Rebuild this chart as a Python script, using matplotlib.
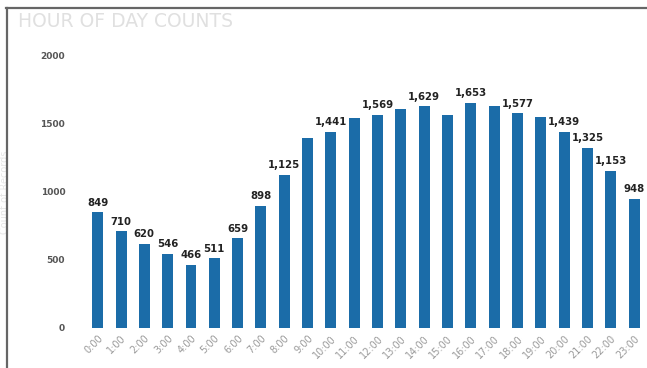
import matplotlib.pyplot as plt
from matplotlib.lines import Line2D

# Hourly counts ---------------------------------------------------------------

hours = ['%d:00' % h for h in range(24)]
counts = [849, 710, 620, 546, 466, 511, 659, 898, 1125, 1395, 1441, 1545,
          1569, 1612, 1629, 1565, 1653, 1632, 1577, 1550, 1439, 1325, 1153, 948]
# bars whose value is printed on top
labelled = [0, 1, 2, 3, 4, 5, 6, 7, 8, 10, 12, 14, 16, 18, 20, 21, 22, 23]
y_ticks = [0, 500, 1000, 1500, 2000]

# Figure ----------------------------------------------------------------------

fig = plt.figure(figsize=(6.47, 3.68), dpi=100)
ax = fig.add_axes([0.133, 0.109, 0.865, 0.739])

x = range(len(counts))
bars = ax.bar(x, counts, width=0.47, color='#1b6ca8')

for i in labelled:
    ax.text(i, counts[i] + 35, '{:,}'.format(counts[i]), ha='center',
            va='bottom', fontsize=7.3, fontweight='bold', color='#222222')

ax.set_xlim(-0.5, 23.5)
ax.set_ylim(0, 2000)
ax.set_xticks(list(x))
ax.set_xticklabels(hours, rotation=45, ha='right', rotation_mode='anchor',
                   fontsize=7, color='#9a9a9a')
ax.set_yticks(y_ticks)
ax.set_yticklabels([str(v) for v in y_ticks], fontsize=6.5,
                   fontweight='bold', color='#555555')
ax.tick_params(axis='y', length=0, pad=15)
ax.tick_params(axis='x', length=0, pad=4)
for s in ax.spines.values():
    s.set_visible(False)

ax.set_ylabel('Count of Records', fontsize=7, color='#e6e6e6', labelpad=22)

fig.text(0.028, 0.915, 'HOUR OF DAY COUNTS', fontsize=13.5, color='#e0e0e0',
         ha='left', va='bottom')

# panel border
fig.add_artist(Line2D([0.0101, 0.0101], [0.0, 0.978], transform=fig.transFigure,
                      color='#666666', lw=1.6))
fig.add_artist(Line2D([0.0093, 1.0], [0.978, 0.978], transform=fig.transFigure,
                      color='#666666', lw=1.6))

fig.savefig('out.png', dpi=100)
